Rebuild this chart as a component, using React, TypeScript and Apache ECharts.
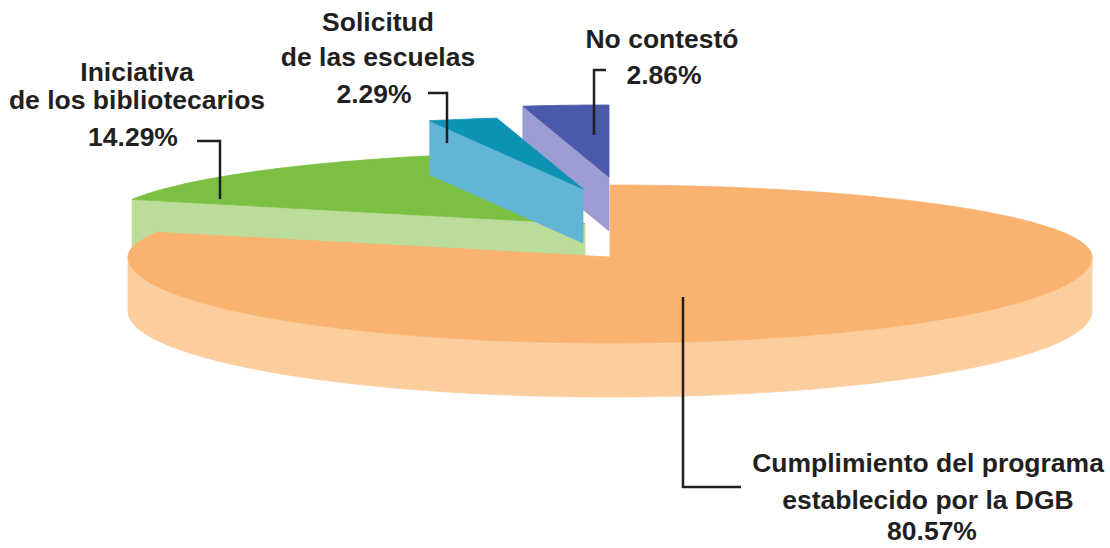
import React, { useEffect, useRef } from "react";
import * as echarts from "echarts";

// ---- Data ----
const CATEGORIES: string[] = [
  "Cumplimiento del programa\nestablecido por la DGB",
  "Iniciativa\nde los bibliotecarios",
  "Solicitud\nde las escuelas",
  "No contestó",
];
const VALUES: number[] = [80.57, 14.29, 2.29, 2.86];

// ---- Styles ----
const TOP_COLORS = ["#f9b26f", "#7bbf43", "#0c93b3", "#4b59aa"];
const SIDE_COLORS = ["#fccd9d", "#bcdc9b", "#62b5d5", "#9c9dd2"];
const SLICE_OFFSETS = [
  [10, 22],
  [-15, -11],
  [-17, -46],
  [9, -58],
];
const DRAW_ORDER = [3, 1, 2, 0];
const CENTER = [600, 235];
const RX = 482;
const RY_BACK = 72;
const RY_FRONT = 86;
const DEPTH = 54;
const START_ANGLE = 90;

const FONT = '"Liberation Sans", Arial, Helvetica, sans-serif';
const TEXT_COLOR = "#231f20";
const FONT_SIZE = 25;
const TEXT_STRETCH = 1.06;

// label layout: x center, y of each name line, percent position
const LABEL_LAYOUT = [
  { x: 928, lines: [463, 500], pct: [932, 531] },
  { x: 137, lines: [72, 100], pct: [133, 137] },
  { x: 378, lines: [22, 57], pct: [374, 94] },
  { x: 662, lines: [39], pct: [664, 75] },
];
const LEADERS = [
  [[683, 297], [683, 487], [741, 487]],
  [[197, 141], [220, 141], [220, 199]],
  [[428, 93], [447, 93], [447, 143]],
  [[606, 70], [594, 70], [594, 135]],
];

const TOTAL = VALUES.reduce((a, b) => a + b, 0);
const STARTS: number[] = [];
{
  let acc = 0;
  VALUES.forEach((v) => {
    STARTS.push(acc);
    acc += v;
  });
}

function rim(cx: number, cy: number, a: number, dy = 0): number[] {
  const r = (a * Math.PI) / 180;
  const s = Math.sin(r);
  return [cx + RX * Math.cos(r), cy - (s > 0 ? RY_BACK : RY_FRONT) * s + dy];
}

function arcPts(cx: number, cy: number, from: number, to: number, dy = 0): number[][] {
  const n = Math.max(2, Math.ceil(Math.abs(from - to)));
  const pts: number[][] = [];
  for (let k = 0; k <= n; k++) {
    const a = from + ((to - from) * k) / n;
    pts.push(rim(cx, cy, a, dy));
  }
  return pts;
}

function poly(points: number[][], fill: string, z2: number) {
  return {
    type: "polygon",
    shape: { points },
    style: { fill, stroke: fill, lineWidth: 0.8 },
    z2,
    silent: true,
  };
}

function renderItem(params: any, api: any) {
  const i = params.dataIndex;
  const v = api.value(0);
  const a0 = START_ANGLE - (STARTS[i] / TOTAL) * 360;
  const a1 = a0 - (v / TOTAL) * 360;
  const cx = CENTER[0] + SLICE_OFFSETS[i][0];
  const cy = CENTER[1] + SLICE_OFFSETS[i][1];
  const z = DRAW_ORDER[i] * 10;
  const top = TOP_COLORS[i];
  const side = SIDE_COLORS[i];
  const children: any[] = [];

  const cosd = (a: number) => Math.cos((a * Math.PI) / 180);
  if (cosd(a0) < -0.02) {
    children.push(
      poly([[cx, cy], rim(cx, cy, a0), rim(cx, cy, a0, DEPTH), [cx, cy + DEPTH]], side, z + 1)
    );
  }
  if (cosd(a1) > 0.02) {
    children.push(
      poly([[cx, cy], rim(cx, cy, a1), rim(cx, cy, a1, DEPTH), [cx, cy + DEPTH]], side, z + 1)
    );
  }
  // outer wall (front half only)
  const hi = Math.min(a0, 0);
  const lo = Math.max(a1, -180);
  if (hi > lo) {
    const upper = arcPts(cx, cy, hi, lo);
    const lower = arcPts(cx, cy, lo, hi, DEPTH);
    children.push(poly(upper.concat(lower), side, z + 2));
  }
  // top face
  const face = [[cx, cy]].concat(arcPts(cx, cy, a0, a1));
  children.push(poly(face, top, z + 3));

  return { type: "group", children };
}

function textEl(text: string, x: number, y: number) {
  return {
    type: "text",
    x,
    y,
    z: 100,
    scaleX: TEXT_STRETCH,
    silent: true,
    style: {
      text,
      fontSize: FONT_SIZE,
      fontWeight: "bold",
      fontFamily: FONT,
      fill: TEXT_COLOR,
      align: "center",
      verticalAlign: "middle",
    },
  };
}

function buildGraphics() {
  const els: any[] = [];
  CATEGORIES.forEach((name, i) => {
    const lay = LABEL_LAYOUT[i];
    name.split("\n").forEach((line, k) => {
      els.push(textEl(line, lay.x, lay.lines[k]));
    });
    els.push(textEl(VALUES[i].toFixed(2) + "%", lay.pct[0], lay.pct[1]));
    els.push({
      type: "polyline",
      z: 100,
      silent: true,
      shape: { points: LEADERS[i] },
      style: { stroke: TEXT_COLOR, lineWidth: 2.5, fill: null },
    });
  });
  return els;
}

export default function App() {
  const ref = useRef<HTMLDivElement>(null);
  useEffect(() => {
    const chart = echarts.init(ref.current!, null, { renderer: "svg" });
    chart.setOption({
      animation: false,
      backgroundColor: "#ffffff",
      series: [
        {
          type: "custom",
          coordinateSystem: "none",
          renderItem,
          data: VALUES.map((v, i) => ({ value: [v], name: CATEGORIES[i] })),
          emphasis: { disabled: true },
          silent: true,
        },
      ],
      graphic: { elements: buildGraphics() },
    });
    return () => chart.dispose();
  }, []);
  return (
    <div
      ref={ref}
      style={{ position: "absolute", left: 0, top: 0, width: 1110, height: 548 }}
    />
  );
}
